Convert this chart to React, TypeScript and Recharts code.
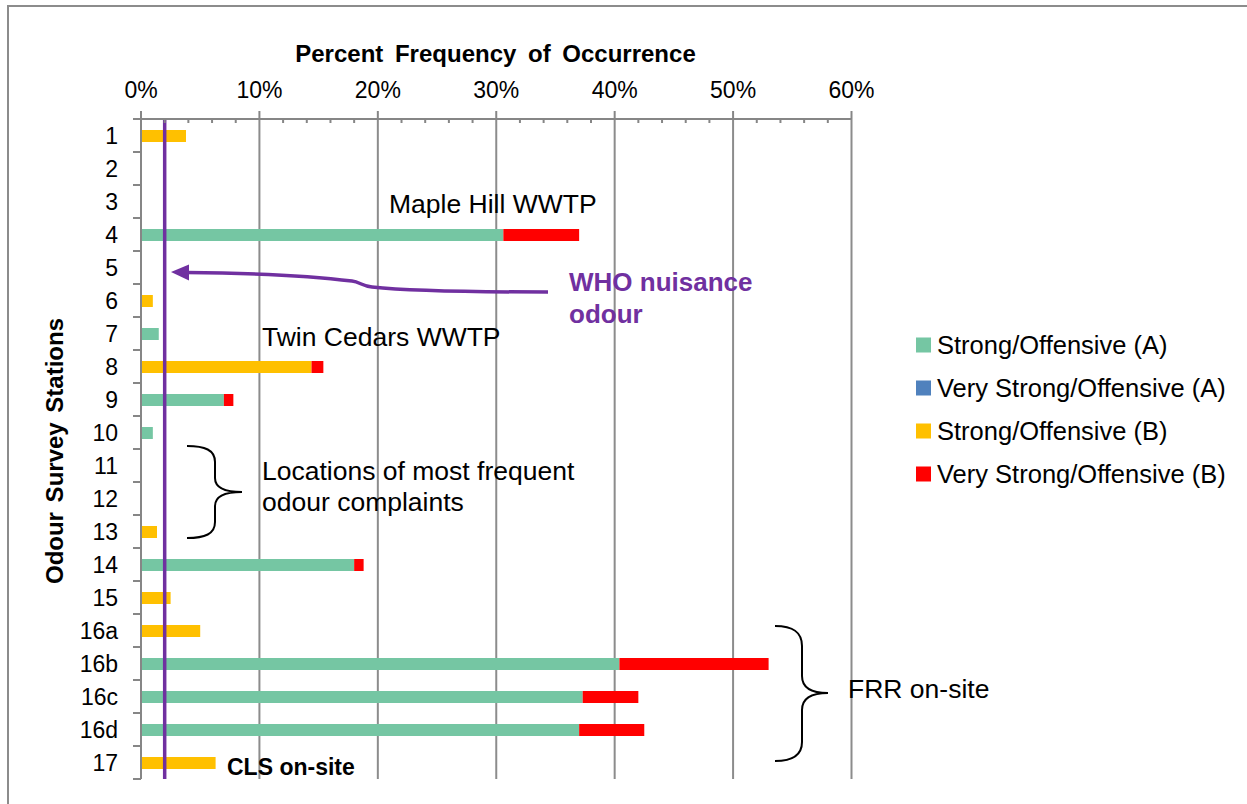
import React from 'react';
import { BarChart, Bar, XAxis, YAxis, CartesianGrid, ReferenceLine } from 'recharts';

// ---- data ----
const STATIONS = ['1', '2', '3', '4', '5', '6', '7', '8', '9', '10', '11', '12', '13', '14', '15', '16a', '16b', '16c', '16d', '17'];
const STRONG_A = [0, 0, 0, 30.6, 0, 0, 1.5, 0, 7.0, 1.0, 0, 0, 0, 18.0, 0, 0, 40.4, 37.3, 37.0, 0];
const VERY_STRONG_A = [0, 0, 0, 0, 0, 0, 0, 0, 0, 0, 0, 0, 0, 0, 0, 0, 0, 0, 0, 0];
const STRONG_B = [3.8, 0, 0, 0, 0, 1.0, 0, 14.4, 0, 0, 0, 0, 1.35, 0, 2.5, 5.0, 0, 0, 0, 6.3];
const VERY_STRONG_B = [0, 0, 0, 6.4, 0, 0, 0, 1.0, 0.8, 0, 0, 0, 0, 0.8, 0, 0, 12.6, 4.7, 5.5, 0];

const X_TICKS = [0, 2, 4, 6, 8, 10, 12, 14, 16, 18, 20, 22, 24, 26, 28, 30, 32, 34, 36, 38, 40, 42, 44, 46, 48, 50, 52, 54, 56, 58, 60];
const GRID_VALUES = [10, 20, 30, 40, 50, 60];
const WHO_THRESHOLD = 2;

const SERIES_KEYS = ['strongA', 'veryStrongA', 'strongB', 'veryStrongB'];
const SERIES_NAMES = ['Strong/Offensive (A)', 'Very Strong/Offensive (A)', 'Strong/Offensive (B)', 'Very Strong/Offensive (B)'];
const SERIES_COLORS = ['#75C6A3', '#4F81BD', '#FFC000', '#FF0000'];

const data = STATIONS.map((s, i) => ({
  station: s,
  strongA: STRONG_A[i],
  veryStrongA: VERY_STRONG_A[i],
  strongB: STRONG_B[i],
  veryStrongB: VERY_STRONG_B[i],
}));

// ---- layout ----
const W = 1247;
const H = 804;
const MARGIN = { top: 118, right: 395.5, bottom: 25, left: 140 };
const BAND = (H - MARGIN.top - 1 - MARGIN.bottom) / STATIONS.length;
const AXIS = '#868686';
const FONT = 'Arial, "Liberation Sans", sans-serif';
const PURPLE = '#7030A0';

const XTick = (props: any) => {
  const { x, y, payload } = props;
  const v = payload.value;
  const major = v % 10 === 0;
  return (
    <g>
      {major ? (
        <line x1={x} x2={x} y1={y - 8} y2={y} stroke={AXIS} strokeWidth={2} />
      ) : (
        <line x1={x} x2={x} y1={y} y2={y + 4} stroke={AXIS} strokeWidth={2} />
      )}
      {major && (
        <text x={x} y={y - 21} textAnchor="middle" fontSize={23} fontFamily={FONT} fill="#000">
          {v}%
        </text>
      )}
    </g>
  );
};

const YTick = (props: any) => {
  const { x, y, payload, index } = props;
  return (
    <g>
      <line x1={x - 8} x2={x} y1={y - BAND / 2} y2={y - BAND / 2} stroke={AXIS} strokeWidth={2} />
      {index === STATIONS.length - 1 && (
        <line x1={x - 8} x2={x} y1={y + BAND / 2} y2={y + BAND / 2} stroke={AXIS} strokeWidth={2} />
      )}
      <text x={x - 23} y={y} dy="0.36em" textAnchor="end" fontSize={23} fontFamily={FONT} fill="#000">
        {payload.value}
      </text>
    </g>
  );
};

export default function App() {
  return (
    <div style={{ position: 'absolute', left: 0, top: 0, width: W, height: H, overflow: 'hidden', background: '#fff' }}>
      <div
        style={{
          position: 'absolute',
          left: 7,
          top: 5,
          width: 1400,
          height: 1000,
          borderTop: '2px solid #8c8c8c',
          borderLeft: '2px solid #8c8c8c',
        }}
      />
      <div style={{ position: 'absolute', left: 0, top: 0 }}>
        <BarChart layout="vertical" width={W} height={H} data={data} margin={MARGIN} barSize={12}>
          <CartesianGrid horizontal={false} verticalValues={GRID_VALUES} stroke="#8c8c8c" strokeWidth={2} />
          <XAxis
            type="number"
            orientation="top"
            domain={[0, 60]}
            ticks={X_TICKS}
            interval={0}
            height={1}
            tickSize={0}
            tickMargin={0}
            tickLine={false}
            axisLine={{ stroke: AXIS, strokeWidth: 2 }}
            tick={<XTick />}
            allowDataOverflow
          />
          <YAxis
            type="category"
            dataKey="station"
            width={1}
            interval={0}
            tickSize={0}
            tickMargin={0}
            tickLine={false}
            axisLine={{ stroke: AXIS, strokeWidth: 2 }}
            tick={<YTick />}
          />
          {SERIES_KEYS.map((k, i) => (
            <Bar key={k} dataKey={k} name={SERIES_NAMES[i]} stackId="s" fill={SERIES_COLORS[i]} isAnimationActive={false} />
          ))}
          <ReferenceLine x={WHO_THRESHOLD} stroke={PURPLE} strokeWidth={3.5} />
        </BarChart>
      </div>
      <svg width={W} height={H} style={{ position: 'absolute', left: 0, top: 0, pointerEvents: 'none' }} fontFamily={FONT}>
        {/* axis titles */}
        <text x={495.5} y={62} textAnchor="middle" fontSize={24} fontWeight="bold" wordSpacing={5} fill="#000">
          Percent Frequency of Occurrence
        </text>
        <text
          x={0}
          y={0}
          transform="translate(63,451) rotate(-90)"
          textAnchor="middle"
          fontSize={24}
          fontWeight="bold"
          wordSpacing={3}
          fill="#000"
        >
          Odour Survey Stations
        </text>

        {/* annotations */}
        <text x={389} y={213} fontSize={26.5} fill="#000">Maple Hill WWTP</text>
        <text x={262} y={346} fontSize={26.5} fill="#000">Twin Cedars WWTP</text>
        <text x={262} y={480} fontSize={26.5} fill="#000">Locations of most frequent</text>
        <text x={262} y={511} fontSize={26.5} fill="#000">odour complaints</text>
        <text x={848} y={698} fontSize={26.5} fill="#000">FRR on-site</text>
        <text x={227} y={775} fontSize={23} fontWeight="bold" fill="#000">CLS on-site</text>
        <text x={569} y={291} fontSize={26} fontWeight="bold" fill={PURPLE}>WHO nuisance</text>
        <text x={569} y={323} fontSize={26} fontWeight="bold" fill={PURPLE}>odour</text>

        {/* braces */}
        <path
          d="M187,446 C205,446 215,450 215,462 L215,478 C215,488 225,492 242,492 C225,492 215,496 215,506 L215,522 C215,534 205,538 187,538"
          fill="none"
          stroke="#000"
          strokeWidth={2}
        />
        <path
          d="M775,626 C793,626 802,632 802,646 L802,676 C802,688 812,693 828,693 C812,693 802,698 802,710 L802,742 C802,755 793,761 775,761"
          fill="none"
          stroke="#000"
          strokeWidth={2}
        />

        {/* arrow */}
        <path
          d="M548,292 C470,292 400,290 372,287 C362,286 360,282 352,281 C320,277 260,273 186,272.5"
          fill="none"
          stroke={PURPLE}
          strokeWidth={3.5}
        />
        <polygon points="171,272 189,264.5 189,280.5" fill={PURPLE} />

        {/* legend */}
        {SERIES_NAMES.map((n, i) => (
          <g key={n}>
            <rect x={916} y={345 + i * 43 - 7.5} width={15} height={15} fill={SERIES_COLORS[i]} />
            <text x={937} y={345 + i * 43} dy="0.36em" fontSize={25.5} fill="#000">
              {n}
            </text>
          </g>
        ))}
      </svg>
    </div>
  );
}
